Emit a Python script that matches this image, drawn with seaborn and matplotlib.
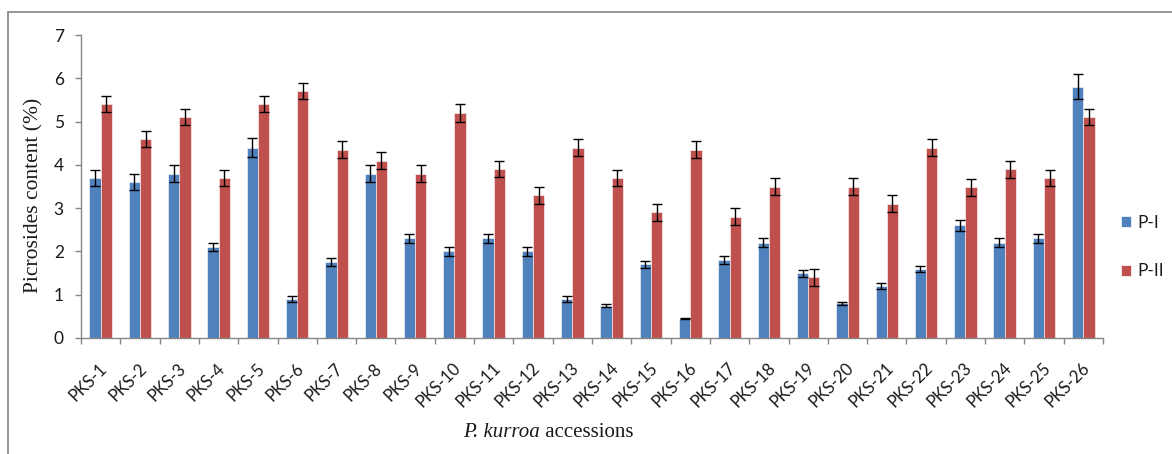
import matplotlib
matplotlib.use("Agg")
import matplotlib.pyplot as plt
from matplotlib.lines import Line2D
from matplotlib.patches import Patch
from matplotlib.ticker import FixedLocator, NullFormatter
from matplotlib.transforms import ScaledTranslation
import numpy as np
import pandas as pd
import seaborn as sns

# Accessions and picroside content (%) with standard errors
accessions = [f"PKS-{i}" for i in range(1, 27)]
p1_values = [3.70, 3.60, 3.80, 2.10, 4.40, 0.90, 1.75, 3.80, 2.30, 2.00,
             2.30, 2.00, 0.90, 0.75, 1.70, 0.45, 1.80, 2.20, 1.50, 0.80,
             1.20, 1.60, 2.60, 2.20, 2.30, 5.80]
p1_errors = [0.19, 0.18, 0.19, 0.10, 0.22, 0.06, 0.09, 0.19, 0.11, 0.11,
             0.11, 0.11, 0.06, 0.035, 0.09, 0.02, 0.09, 0.10, 0.08, 0.04,
             0.07, 0.07, 0.13, 0.10, 0.11, 0.29]
p2_values = [5.40, 4.60, 5.10, 3.70, 5.40, 5.70, 4.35, 4.10, 3.80, 5.20,
             3.90, 3.30, 4.40, 3.70, 2.90, 4.35, 2.80, 3.50, 1.40, 3.50,
             3.10, 4.40, 3.48, 3.90, 3.70, 5.10]
p2_errors = [0.19, 0.19, 0.19, 0.19, 0.19, 0.19, 0.19, 0.20, 0.19, 0.20,
             0.19, 0.20, 0.20, 0.19, 0.19, 0.20, 0.20, 0.19, 0.20, 0.19,
             0.20, 0.20, 0.20, 0.20, 0.19, 0.19]
series_names = ["P-I", "P-II"]
series_colors = ["#4F81BD", "#C0504D"]
y_ticks = [0, 1, 2, 3, 4, 5, 6, 7]

df = pd.DataFrame({
    "accession": accessions * 2,
    "series": [series_names[0]] * len(accessions) + [series_names[1]] * len(accessions),
    "value": p1_values + p2_values,
    "err": p1_errors + p2_errors,
})

sns.set_style("white")
plt.rcParams["font.family"] = ["Lato", "DejaVu Sans"]

W, H = 1172, 454
fig = plt.figure(figsize=(W / 100, H / 100), dpi=100)
ax = fig.add_axes([81 / W, 1 - 338 / H, (1103 - 81) / W, (338 - 35) / H])

sns.barplot(data=df, x="accession", y="value", hue="series",
            palette=series_colors, width=0.575, errorbar=None,
            edgecolor="white", linewidth=0.4, saturation=1,
            legend=False, ax=ax)

# Error bars at the centre of each bar drawn by seaborn
for container, errs in zip(ax.containers, [p1_errors, p2_errors]):
    xs = [b.get_x() + b.get_width() / 2 for b in container]
    hs = [b.get_height() for b in container]
    ax.errorbar(xs, hs, yerr=errs, fmt="none", ecolor="black",
                elinewidth=1.0, capsize=3.3, capthick=1.0, zorder=5)

axis_grey = "#868686"
text_col = "#1a1a1a"
ax.set_ylim(0, 7)
ax.set_xlim(-0.5, len(accessions) - 0.5)
ax.set_yticks(y_ticks)
ax.set_yticklabels([str(t) for t in y_ticks])
for side in ["top", "right"]:
    ax.spines[side].set_visible(False)
for side in ["left", "bottom"]:
    ax.spines[side].set_color(axis_grey)
    ax.spines[side].set_linewidth(1.0)

ax.tick_params(axis="y", which="major", direction="out", length=4.3, width=1.0,
               color=axis_grey, pad=8, labelsize=12.5, labelcolor=text_col, left=True)
ax.tick_params(axis="x", which="major", length=0, pad=20, labelsize=12,
               labelcolor=text_col, bottom=True)
ax.xaxis.set_minor_locator(FixedLocator(np.arange(-0.5, len(accessions), 1.0)))
ax.xaxis.set_minor_formatter(NullFormatter())
ax.tick_params(axis="x", which="minor", direction="out", length=4.3, width=1.0,
               color=axis_grey, bottom=True)
shift = ScaledTranslation(4 / 100, 0, fig.dpi_scale_trans)
for lbl in ax.get_xticklabels():
    lbl.set_rotation(45)
    lbl.set_ha("right")
    lbl.set_va("center")
    lbl.set_rotation_mode("anchor")
    lbl.set_transform(lbl.get_transform() + shift)

ax.set_xlabel("")
ax.set_ylabel("")

fig.text(34 / W, 1 - 195 / H, "Picrosides content (%)", rotation=90,
         ha="center", va="center", fontsize=15.5, family="Liberation Serif",
         color=text_col)

# x-axis title: italic species name followed by upright text on one baseline
renderer = fig.canvas.get_renderer()
label_y = 1 - 437 / H
t_species = fig.text(463 / W, label_y, "P. kurroa", ha="left", va="baseline",
                     fontsize=15, family="Liberation Serif", style="italic",
                     color=text_col)
species_right = t_species.get_window_extent(renderer).x1
fig.text(species_right / W, label_y, "\u00a0accessions", ha="left", va="baseline",
         fontsize=15, family="Liberation Serif", color=text_col)

handles = [Patch(facecolor=c, edgecolor="white", linewidth=0.5) for c in series_colors]
fig.legend(handles, series_names, loc="center left",
           bbox_to_anchor=(1121 / W, 1 - 247 / H), frameon=False,
           fontsize=12.5, handlelength=0.55, handleheight=0.55,
           handletextpad=0.4, labelspacing=1.9, borderpad=0, borderaxespad=0,
           labelcolor=text_col)

# Outer chart-area frame (left and top edges)
frame_y = 1 - 12 / H
frame_x = 7.5 / W
fig.add_artist(Line2D([frame_x, frame_x], [0, frame_y], transform=fig.transFigure,
                      color="#8c8c8c", linewidth=1.3))
fig.add_artist(Line2D([frame_x, 1], [frame_y, frame_y], transform=fig.transFigure,
                      color="#8c8c8c", linewidth=1.3))

fig.savefig("out.png", dpi=100, facecolor="white")
